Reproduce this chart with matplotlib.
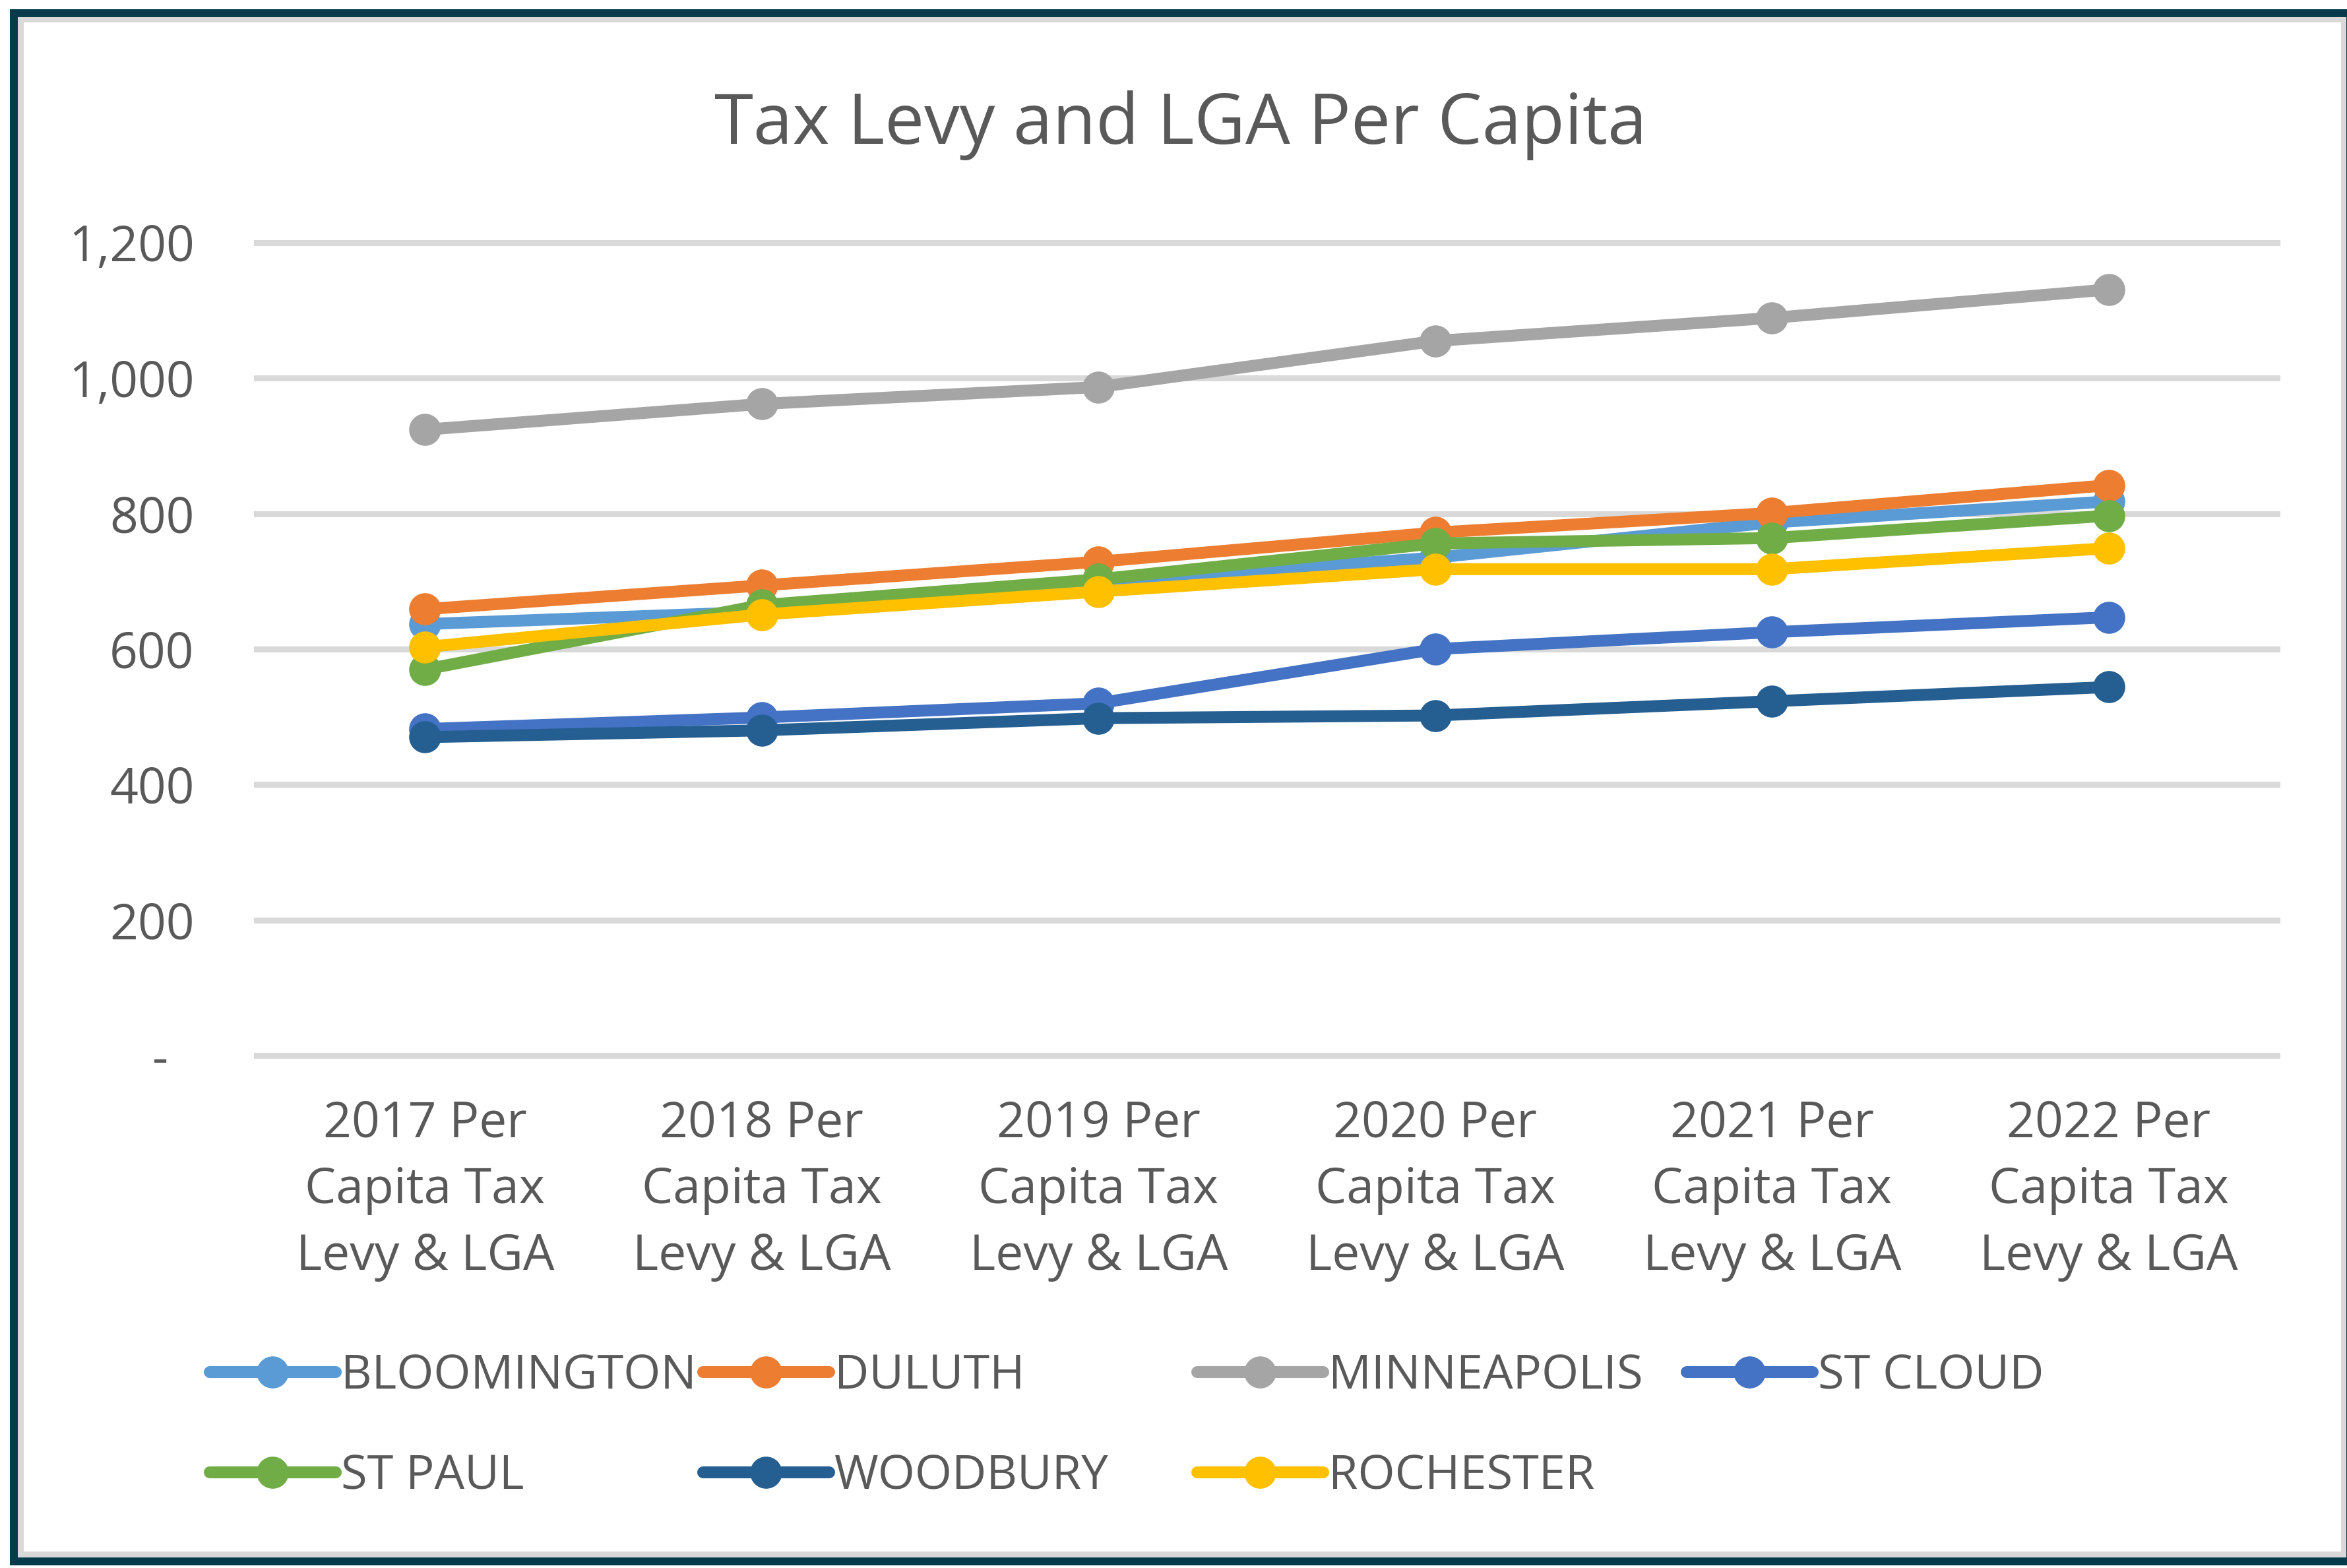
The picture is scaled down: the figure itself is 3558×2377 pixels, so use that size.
import matplotlib
matplotlib.use("Agg")
import matplotlib.pyplot as plt
from matplotlib.patches import Rectangle

# ---------------- data ----------------
categories = [
    "2017 Per\nCapita Tax\nLevy & LGA",
    "2018 Per\nCapita Tax\nLevy & LGA",
    "2019 Per\nCapita Tax\nLevy & LGA",
    "2020 Per\nCapita Tax\nLevy & LGA",
    "2021 Per\nCapita Tax\nLevy & LGA",
    "2022 Per\nCapita Tax\nLevy & LGA",
]
series_names = ["BLOOMINGTON", "DULUTH", "MINNEAPOLIS", "ST CLOUD",
                "ST PAUL", "WOODBURY", "ROCHESTER"]
bloomington = [637, 655, 700, 735, 787, 818]
duluth = [659, 694, 729, 772, 801, 842]
minneapolis = [924, 962, 987, 1055, 1089, 1131]
st_cloud = [482, 499, 520, 600, 625, 647]
st_paul = [570, 665, 703, 756, 764, 797]
woodbury = [470, 480, 498, 502, 523, 544]
rochester = [603, 651, 685, 718, 718, 749]
series_values = [bloomington, duluth, minneapolis, st_cloud,
                 st_paul, woodbury, rochester]
series_colors = ["#5B9BD5", "#ED7D31", "#A5A5A5", "#4472C4",
                 "#70AD47", "#255E91", "#FFC000"]
y_ticks = [0, 200, 400, 600, 800, 1000, 1200]
y_tick_labels = ["-  ", "200", "400", "600", "800", "1,000", "1,200"]
title = "Tax Levy and LGA Per Capita"

# ---------------- layout ----------------
W, H = 3558, 2377
plt.rcParams['font.family'] = ['Open Sans', 'DejaVu Sans']
TEXT = "#595959"

fig = plt.figure(figsize=(W / 100, H / 100), dpi=100)
fig.patch.set_facecolor("white")


def fx(px):
    return px / W


def fy(py):
    return 1 - py / H


def rect(x0, y0, x1, y1, color, z):
    fig.add_artist(Rectangle((fx(x0), fy(y1)), fx(x1) - fx(x0), fy(y0) - fy(y1),
                             transform=fig.transFigure, facecolor=color,
                             edgecolor="none", zorder=z))


# outer frame: dark border, light grey band, white interior
rect(15, 14, 3600, 2373, "#063B4B", -30)
rect(27, 26, 3557, 2361, "#D9D9D9", -29)
rect(36, 34, 3549, 2352, "white", -28)

ax = fig.add_axes([fx(389), fy(1600), fx(3452) - fx(389), fy(368) - fy(1600)])
ax.set_facecolor("none")

x = list(range(len(categories)))
handles = []
for name, vals, col in zip(series_names, series_values, series_colors):
    h, = ax.plot(x, vals, color=col, lw=13, marker="o", ms=35,
                 mfc=col, mec=col, mew=0, solid_capstyle="round",
                 solid_joinstyle="round", label=name)
    handles.append(h)

ax.set_xlim(-0.5, len(categories) - 0.5)
ax.set_ylim(0, 1200)
ax.set_yticks(y_ticks)
ax.set_yticklabels(y_tick_labels)
ax.set_xticks(x)
ax.set_xticklabels(categories, linespacing=1.45)
ax.grid(axis="y", color="#D9D9D9", lw=6.5)
ax.grid(axis="x", visible=False)
ax.set_axisbelow(True)
for gl in ax.get_ygridlines():
    gl.set_clip_on(False)
for s in ax.spines.values():
    s.set_visible(False)
ax.tick_params(length=0, colors=TEXT, labelsize=54)
ax.tick_params(axis="y", pad=68)
ax.tick_params(axis="x", pad=48)

fig.text(fx(1790), fy(218), title, ha="center", va="baseline",
         fontsize=77, color=TEXT)

# legend: one entry per slot, laid out like the original two rows
legend_slots = [(318, 2087), (1066, 2087), (1815, 2087), (2557, 2087),
                (318, 2239), (1066, 2239), (1815, 2239)]
for h, (lx, ly) in zip(handles, legend_slots):
    fig.legend(handles=[h], loc="center left", bbox_to_anchor=(fx(lx), fy(ly)),
               frameon=False, fontsize=52, handlelength=2.64,
               handletextpad=0.12, borderpad=0, borderaxespad=0,
               labelcolor=TEXT)

fig.savefig("out.png", dpi=100, facecolor="white")
